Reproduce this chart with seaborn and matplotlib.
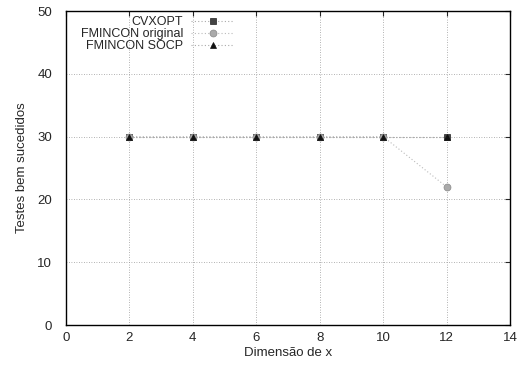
import matplotlib
matplotlib.use("Agg")
import matplotlib.pyplot as plt
import seaborn as sns
import pandas as pd

dims = [2, 4, 6, 8, 10, 12]
cvxopt = [30, 30, 30, 30, 30, 30]
fmincon_orig = [30, 30, 30, 30, 30, 22]
fmincon_socp = [30, 30, 30, 30, 30, 30]
series_names = ["CVXOPT", "FMINCON original", "FMINCON SOCP"]

sns.set_style("white")
plt.rcParams['font.family'] = ['Liberation Sans', 'DejaVu Sans']
plt.rcParams['font.size'] = 9.5

fig = plt.figure(figsize=(5.19, 3.65), dpi=100)
ax = fig.add_axes([66/519, 1-325/365, (510-66)/519, (325-11)/365])

styles = [
    dict(marker="s", markersize=5, mfc="#444444", mec="#222222", color="#aaaaaa"),
    dict(marker="o", markersize=5, mfc="#aaaaaa", mec="#888888", color="#bbbbbb"),
    dict(marker="^", markersize=4.5, mfc="#111111", mec="#111111", color="#aaaaaa"),
]
for name, vals, st in zip(series_names, [cvxopt, fmincon_orig, fmincon_socp], styles):
    df = pd.DataFrame({"x": dims, "y": vals})
    sns.lineplot(data=df, x="x", y="y", ax=ax, label=name, linestyle=(0, (1, 2)),
                 linewidth=0.8, marker=st["marker"], markersize=st["markersize"],
                 markerfacecolor=st["mfc"], markeredgecolor=st["mec"], markeredgewidth=0.5,
                 color=st["color"])

ax.set_xlim(0, 14)
ax.set_ylim(0, 50)
ax.set_xticks(range(0, 15, 2))
ax.set_yticks(range(0, 51, 10))
ax.grid(True, color="#999999", linestyle=(0, (1, 2)), linewidth=0.6)
ax.tick_params(direction="in", length=3.5, width=0.8, top=True, right=True, labelsize=9.5)
ax.tick_params(axis="x", pad=5)
ax.tick_params(axis="y", pad=10)
for s in ax.spines.values():
    s.set_color("black")
    s.set_linewidth(1)
ax.set_xlabel("Dimensão de x", fontsize=9.5, labelpad=2)
ax.set_ylabel("Testes bem sucedidos", fontsize=9.5, labelpad=7)

leg = ax.legend(loc="upper left", frameon=False, markerfirst=False, fontsize=9,
                handlelength=3.4, handletextpad=0.65, labelspacing=0.0, borderaxespad=0.0,
                bbox_to_anchor=(0.0225, 1.0))

fig.savefig("out.png", dpi=100)
